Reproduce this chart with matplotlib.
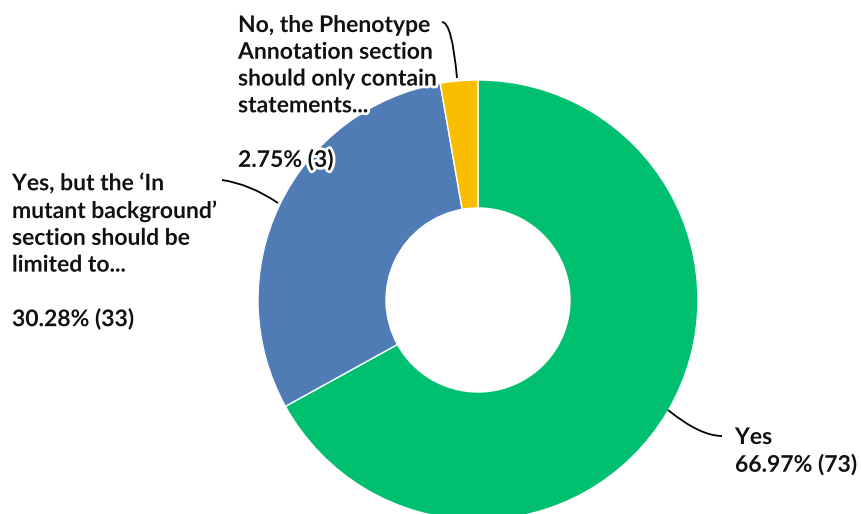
import matplotlib
matplotlib.use("Agg")
import matplotlib.pyplot as plt
import matplotlib.patheffects as pe
from matplotlib.path import Path
from matplotlib.patches import PathPatch

labels = ["Yes",
          "Yes, but the \u2018In\nmutant background\u2019\nsection should be\nlimited to...",
          "No, the Phenotype\nAnnotation section\nshould only contain\nstatements..."]
percents = [66.97, 30.28, 2.75]
counts = [73, 33, 3]
colors = ["#00BF6F", "#507CB6", "#F9BE00"]

plt.rcParams['font.family'] = ['Lato', 'DejaVu Sans']

fig = plt.figure(figsize=(8.61, 5.14), dpi=100)
ax = fig.add_axes([0, 0, 1, 1])

cx, cy = 478, 214
R = 220
ax.pie(percents, colors=colors, startangle=90, counterclock=False,
       center=(cx, cy), radius=R, frame=True,
       wedgeprops=dict(width=128, edgecolor='white', linewidth=1))
ax.set_xlim(0, 861)
ax.set_ylim(0, 514)
ax.set_aspect('equal')
ax.axis('off')


def leader(p0, p1, p2):
    path = Path([p0, p1, p2], [Path.MOVETO, Path.CURVE3, Path.CURVE3])
    ax.add_patch(PathPatch(path, fill=False, edgecolor='black', lw=1.3))


def Y(y):
    return 514 - y


leader((457, Y(78)), (452, Y(22)), (442, Y(22)))
leader((278, Y(203)), (250, Y(184)), (222, Y(180)))
leader((668, Y(410)), (700, Y(436)), (722, Y(436)))

stroke = [pe.withStroke(linewidth=4, foreground='white')]
fs = 16.5
ls = 1.34

ax.text(238, Y(15), labels[2] + "\n\n%.2f%% (%d)" % (percents[2], counts[2]),
        ha='left', va='top', fontsize=fs, fontweight='bold', linespacing=ls,
        color='#111111', path_effects=stroke)
ax.text(12, Y(173), labels[1] + "\n\n%.2f%% (%d)" % (percents[1], counts[1]),
        ha='left', va='top', fontsize=fs, fontweight='bold', linespacing=ls,
        color='#111111', path_effects=stroke)
ax.text(735, Y(427), labels[0] + "\n%.2f%% (%d)" % (percents[0], counts[0]),
        ha='left', va='top', fontsize=fs, fontweight='bold', linespacing=ls,
        color='#111111', path_effects=stroke)

fig.savefig("out.png", dpi=100)
